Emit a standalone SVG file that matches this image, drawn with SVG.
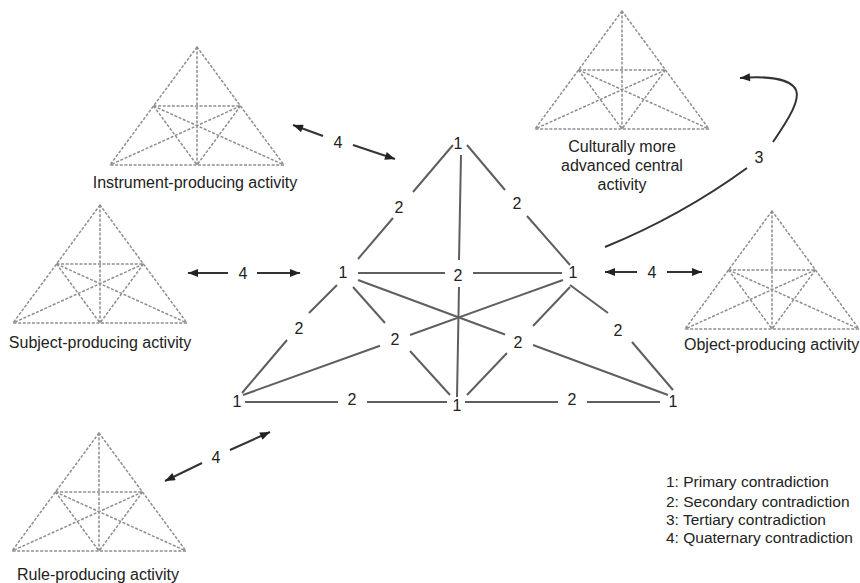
<svg xmlns="http://www.w3.org/2000/svg" xmlns:xlink="http://www.w3.org/1999/xlink" width="860" height="583" viewBox="0 0 860 583">
<style>
text{font-family:"Liberation Sans",Arial,sans-serif;font-size:16px;fill:#222}
.c{text-anchor:middle}
.lg{font-size:15.5px}
.dash{fill:none;stroke:#8e8e8e;stroke-width:1.5;stroke-dasharray:3 1.6}
.main{stroke:#5f5f5f;stroke-width:2;fill:none}
.arr{stroke:#333;stroke-width:2;fill:none}
</style>
<defs>
<marker id="ah" viewBox="0 0 10 8" refX="10" refY="4" markerWidth="11" markerHeight="8" markerUnits="userSpaceOnUse" orient="auto">
<path d="M0,0 L10,4 L0,8 z" fill="#222"/>
</marker>
<g id="tri" class="dash">
<path d="M0,0 L-87,118 L87,118 Z"/>
<path d="M0,0 L0,118"/>
<path d="M-43.5,59 L43.5,59"/>
<path d="M-43.5,59 L0,118 M43.5,59 L0,118"/>
<path d="M-43.5,59 L87,118 M43.5,59 L-87,118"/>
</g>
</defs>
<rect width="860" height="583" fill="#fff"/>

<g id="instrument">
<use xlink:href="#tri" href="#tri" transform="translate(197,47)"/>
<text class="c" x="195" y="188">Instrument-producing activity</text>
</g>
<g id="cultural">
<use xlink:href="#tri" href="#tri" transform="translate(622,11)"/>
<text class="c" x="622" y="152">Culturally more</text>
<text class="c" x="622" y="171">advanced central</text>
<text class="c" x="622" y="190">activity</text>
</g>
<g id="subject">
<use xlink:href="#tri" href="#tri" transform="translate(100,205)"/>
<text class="c" x="100" y="348">Subject-producing activity</text>
</g>
<g id="object">
<use xlink:href="#tri" href="#tri" transform="translate(772,211)"/>
<text x="684" y="350">Object-producing activity</text>
</g>
<g id="rule">
<use xlink:href="#tri" href="#tri" transform="translate(99,433)"/>
<text class="c" x="98" y="580">Rule-producing activity</text>
</g>

<g id="central">
<g class="main">
<path d="M453,145 L413,192 M393,218 L358,259"/>
<path d="M467,145 L505,190 M527,216 L570,265"/>
<path d="M461,155 L459,260 M459,287 L457,397"/>
<path d="M358,273 L445,273 M473,273 L562,273"/>
<path d="M337,285 L309,313 M287,340 L242,393"/>
<path d="M570,285 L608,313 M632,342 L673,390"/>
<path d="M245,402 L338,402 M367,402 L447,402"/>
<path d="M465,402 L558,402 M587,402 L660,402"/>
<path d="M358,280 L505,334.5 M533,345 L668,395"/>
<path d="M563,280 L410,335 M380,345.7 L243,395"/>
<path d="M353,287 L385,323 M410,351 L450,395"/>
<path d="M570,287 L533,326 M507,353 L467,395"/>
</g>
<text class="c" x="458" y="149">1</text>
<text class="c" x="343" y="278">1</text>
<text class="c" x="573" y="278">1</text>
<text class="c" x="237" y="407">1</text>
<text class="c" x="457" y="411">1</text>
<text class="c" x="673" y="407">1</text>
<text class="c" x="399" y="213">2</text>
<text class="c" x="517" y="209">2</text>
<text class="c" x="458" y="281">2</text>
<text class="c" x="299" y="334">2</text>
<text class="c" x="618" y="336">2</text>
<text class="c" x="395" y="345">2</text>
<text class="c" x="518" y="348">2</text>
<text class="c" x="352" y="405">2</text>
<text class="c" x="572" y="405">2</text>
</g>

<g id="connectors">
<path class="arr" d="M323,136 L293,125" marker-end="url(#ah)"/>
<path class="arr" d="M353,145 L395,159" marker-end="url(#ah)"/>
<text class="c" x="338" y="148">4</text>
<path class="arr" d="M228,273 L188,273" marker-end="url(#ah)"/>
<path class="arr" d="M257,273 L300,273" marker-end="url(#ah)"/>
<text class="c" x="243" y="279">4</text>
<path class="arr" d="M637,272 L605,272" marker-end="url(#ah)"/>
<path class="arr" d="M667,272 L702,272" marker-end="url(#ah)"/>
<text class="c" x="652" y="278">4</text>
<path class="arr" d="M202,463 L165,481" marker-end="url(#ah)"/>
<path class="arr" d="M230,450 L270,432" marker-end="url(#ah)"/>
<text class="c" x="216" y="463">4</text>
<path class="arr" d="M605,247 Q681,216 747,168"/>
<path class="arr" d="M773,142 C790,117 800,100 796,90 C790,78 765,76 740,78" marker-end="url(#ah)"/>
<text class="c" x="759" y="163">3</text>
</g>

<g id="legend">
<text class="lg" x="666" y="487">1: Primary contradiction</text>
<text class="lg" x="666" y="507">2: Secondary contradiction</text>
<text class="lg" x="666" y="525">3: Tertiary contradiction</text>
<text class="lg" x="666" y="543">4: Quaternary contradiction</text>
</g>
</svg>
